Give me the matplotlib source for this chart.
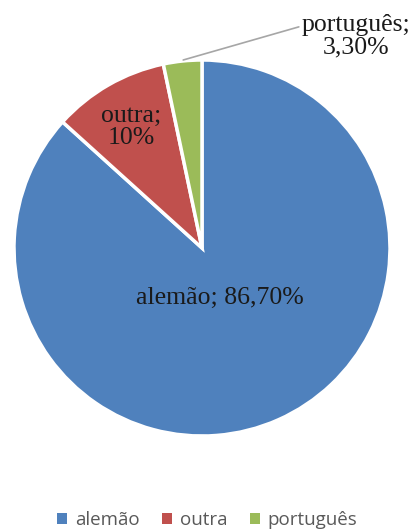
import matplotlib.pyplot as plt
from matplotlib.patches import Patch

categories = ["alemão", "outra", "português"]
values = [86.7, 10.0, 3.3]
value_labels = ["86,70%", "10%", "3,30%"]
colors = ["#4F81BD", "#C0504D", "#9BBB59"]

W, H = 414, 531
fig = plt.figure(figsize=(W / 100, H / 100), dpi=100)
ax = fig.add_axes([14 / W, (H - 436) / H, 376 / W, 376 / H])

wedges, _ = ax.pie(values, colors=colors, startangle=90, counterclock=False,
                   wedgeprops=dict(edgecolor="white", linewidth=2.5))
ax.set_xlim(-1, 1)
ax.set_ylim(-1, 1)
ax.set_aspect("equal")

tfont = dict(family="Liberation Serif", fontsize=18.5, color="#1a1a1a",
             ha="center", va="center", linespacing=1.05)
ax.text(0.096, -0.266, categories[0] + "; " + value_labels[0], **tfont)
ax.text(-0.378, 0.644, categories[1] + ";\n" + value_labels[1], **tfont)
ax.annotate(categories[2] + ";\n" + value_labels[2], xy=(-0.10, 1.0),
            xytext=(0.819, 1.128), annotation_clip=False,
            arrowprops=dict(arrowstyle="-", color="#A6A6A6", lw=1.2,
                            shrinkA=0, shrinkB=0, relpos=(0.0, 0.72)),
            **tfont)

handles = [Patch(facecolor=c, edgecolor="none") for c in colors]
fig.legend(handles, categories, loc="center", ncol=3,
           bbox_to_anchor=(0.5, (H - 520) / H), frameon=False,
           prop=dict(family="Open Sans", size=13.5), labelcolor="#595959",
           handlelength=0.55, handleheight=0.55, handletextpad=0.4,
           columnspacing=1.2)

fig.savefig("out.png", dpi=100)
